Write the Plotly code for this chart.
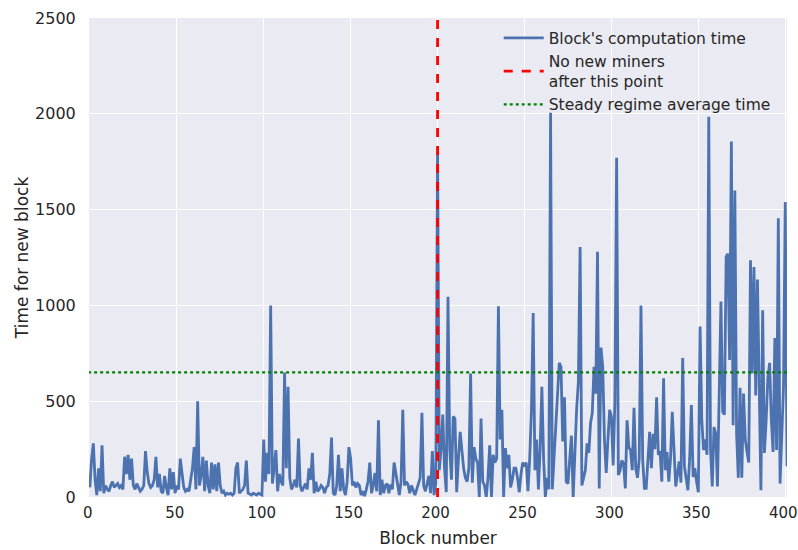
import plotly.graph_objects as go

rows = [
    [50, 200, 280, 90, 10, 150, 30, 270, 20, 60],
    [40, 30, 60, 80, 50, 60, 70, 50, 60, 40],
    [210, 120, 220, 90, 200, 60, 40, 70, 50, 30],
    [40, 60, 240, 130, 70, 50, 60, 90, 210, 50],
    [120, 30, 20, 110, 50, 10, 150, 40, 130, 20],
    [60, 40, 200, 110, 50, 30, 40, 30, 80, 150],
    [260, 40, 500, 60, 110, 210, 30, 190, 60, 20],
    [180, 40, 170, 30, 180, 60, 20, 30, 10, 20],
    [15, 20, 10, 20, 150, 180, 20, 30, 40, 60],
    [190, 20, 15, 10, 20, 15, 10, 20, 15, 10],
    [300, 80, 230, 120, 1000, 70, 150, 245, 30, 120],
    [80, 60, 650, 150, 575, 100, 40, 60, 90, 50],
    [305, 60, 30, 50, 70, 40, 150, 90, 230, 20],
    [80, 30, 40, 60, 50, 20, 50, 60, 120, 310],
    [20, 10, 60, 220, 30, 150, 40, 10, 80, 260],
    [200, 60, 80, 50, 70, 60, 10, 30, 5, 40],
    [80, 180, 20, 60, 125, 30, 400, 10, 90, 20],
    [60, 70, 20, 65, 40, 180, 120, 60, 10, 80],
    [455, 60, 80, 65, 20, 60, 30, 10, 40, 70],
    [100, 440, 60, 30, 65, 110, 20, 240, 10, 70],
    [1795, 140, 250, 430, 150, 25, 1045, 250, 90, 420],
    [410, 25, 200, 340, 245, 150, 100, 80, 150, 645],
    [75, 260, 200, 180, 0, 410, 80, 60, 0, 100],
    [270, 0, 220, 180, 200, 995, 300, 455, 0, 255],
    [150, 220, 50, 90, 150, 150, 100, 25, 120, 180],
    [160, 180, 30, 200, 450, 960, 140, 300, 40, 250],
    [575, 200, 0, 100, 40, 2005, 40, 200, 400, 550],
    [700, 680, 290, 520, 80, 70, 200, 320, 0, 245],
    [460, 600, 1305, 60, 100, 140, 280, 230, 385, 440],
    [680, 540, 1280, 45, 780, 680, 300, 125, 300, 455],
    [420, 165, 500, 1770, 115, 140, 190, 175, 45, 400],
    [260, 245, 140, 465, 150, 100, 200, 1000, 190, 45],
    [45, 200, 340, 150, 330, 250, 520, 220, 240, 80],
    [620, 140, 235, 80, 200, 445, 250, 55, 120, 185],
    [75, 725, 160, 90, 35, 200, 480, 105, 150, 80],
    [25, 890, 400, 245, 300, 220, 1985, 250, 55, 365],
    [330, 55, 600, 1020, 445, 430, 1255, 1270, 715, 1855],
    [375, 1600, 330, 100, 570, 100, 540, 300, 235, 180],
    [1235, 645, 1200, 530, 1135, 575, 35, 975, 230, 400],
    [625, 700, 400, 235, 830, 245, 1455, 70, 300, 575],
    [1540, 160],
]
block_times = [v for r in rows for v in r]
block_numbers = list(range(len(block_times)))

cutoff_block = 200
steady_average = 650

x_ticks = [0, 50, 100, 150, 200, 250, 300, 350, 400]
y_ticks = [0, 500, 1000, 1500, 2000, 2500]

FONT = "DejaVu Sans, Arial, sans-serif"
TXT = "#262626"

fig = go.Figure()
fig.add_trace(go.Scatter(
    x=block_numbers, y=block_times, mode="lines",
    name="Block's computation time",
    line=dict(color="#4C72B0", width=2.8),
))
fig.add_trace(go.Scatter(
    x=[cutoff_block, cutoff_block], y=[0, 2500], mode="lines",
    name="No new miners<br>after this point",
    line=dict(color="#FF0000", width=2.8, dash="dash"),
))
fig.add_trace(go.Scatter(
    x=[-1, 402], y=[steady_average, steady_average], mode="lines",
    name="Steady regime average time",
    line=dict(color="#008000", width=2.2, dash="dot"),
))

fig.update_layout(
    width=798, height=550,
    margin=dict(l=89, r=11, t=18, b=53),
    paper_bgcolor="white",
    plot_bgcolor="#EAEAF2",
    font=dict(family=FONT, size=15, color=TXT),
    showlegend=True,
    legend=dict(
        x=0.587, y=0.993, xanchor="left", yanchor="top",
        bgcolor="rgba(0,0,0,0)", borderwidth=0,
        font=dict(family=FONT, size=15.5, color=TXT),
        itemwidth=40, tracegroupgap=2,
    ),
    xaxis=dict(
        range=[-0.5, 401], tickvals=x_ticks, ticktext=[str(t) for t in x_ticks],
        showgrid=True, gridcolor="white", gridwidth=1.2, zeroline=False,
        showline=False, ticks="outside", ticklen=2, tickcolor="rgba(0,0,0,0)",
        ticklabeloverflow="allow", automargin=False, ticklabelshift=-2,
        tickfont=dict(size=15, color=TXT),
        title=dict(text="Block number", font=dict(size=17, color=TXT), standoff=11),
    ),
    yaxis=dict(
        range=[0, 2500], tickvals=y_ticks, ticktext=[str(t) for t in y_ticks],
        showgrid=True, gridcolor="white", gridwidth=1.2, zeroline=False,
        showline=False, ticks="outside", ticklen=9, tickcolor="rgba(0,0,0,0)",
        ticklabeloverflow="allow", automargin=False,
        tickfont=dict(size=16, color=TXT),
        title=dict(text="Time for new block", font=dict(size=17, color=TXT), standoff=2),
    ),
)

fig.write_html("out.html")
